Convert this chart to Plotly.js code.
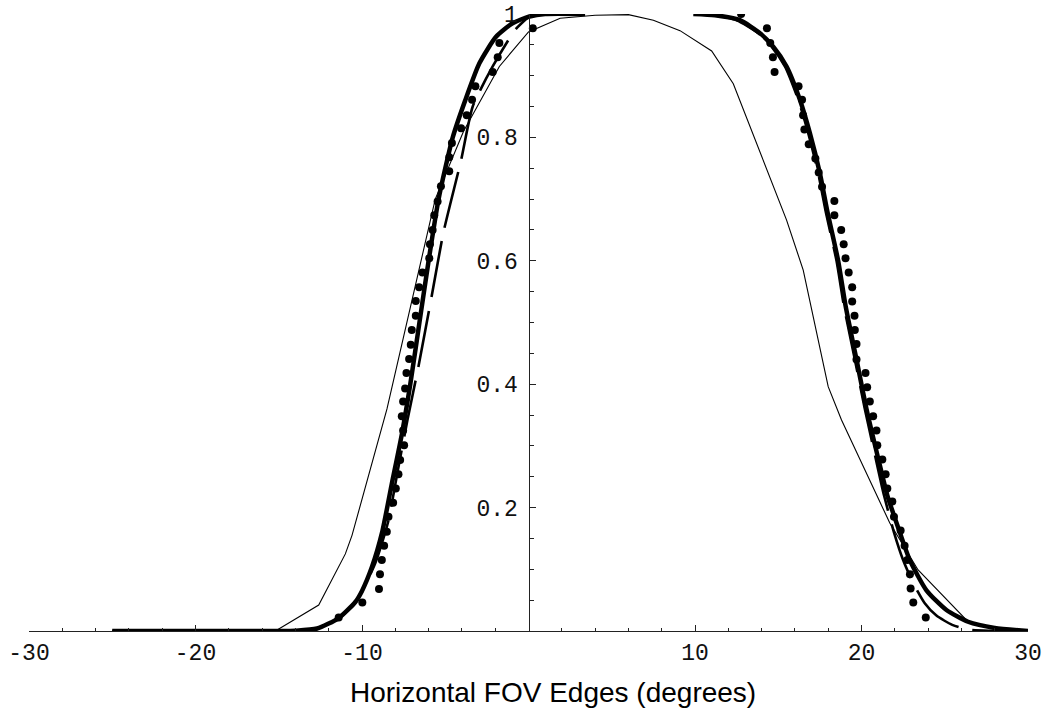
<!DOCTYPE html>
<html>
<head>
<meta charset="utf-8">
<script src="https://cdn.plot.ly/plotly-3.0.1.min.js"></script>
<style>html,body{margin:0;padding:0;background:#fff;}#chart{width:1048px;height:712px;}</style>
</head>
<body>
<div id="chart"></div>
<script>
// ---- data ----
var thinX = [-25, -15.2, -12.6, -11.0, -10.6, -8.5, -5.6, -3.9, -1.75, 0, 1.9, 4, 6, 7.5, 9.1, 11.0, 12.3, 15.5, 16.5, 18.0, 18.8, 21.7, 23.4, 26.4, 28, 30];
var thinY = [0, 0, 0.042, 0.125, 0.155, 0.36, 0.70, 0.81, 0.915, 0.971, 0.993, 0.998, 0.999, 0.99, 0.973, 0.94, 0.887, 0.666, 0.585, 0.396, 0.342, 0.175, 0.099, 0.015, 0.005, 0];

var thickX = [-25, -15, -14, -12.7, -11.4, -10.4, -10.0, -9.4, -8.8, -8.2, -7.6, -7.1, -6.55, -6.0, -5.4, -4.55, -3.8, -2.95, -1.95, -0.96, 0.06, 1.0, 3.4, null,
              9.9, 11.2, 12.7, 13.9, 14.7, 15.5, 16.3, 16.9, 17.5, 17.95, 18.6, 19.05, 19.7, 20.3, 21.0, 21.55, 22.3, 22.9, 23.9, 25.1, 26.4, 28, 30];
var thickY = [0, 0, 0.0005, 0.004, 0.021, 0.047, 0.065, 0.104, 0.159, 0.24, 0.32, 0.40, 0.50, 0.60, 0.70, 0.80, 0.86, 0.92, 0.963, 0.985, 0.996, 1.0, 1.0, null,
              1.0, 0.998, 0.99, 0.969, 0.947, 0.915, 0.861, 0.807, 0.742, 0.68, 0.6, 0.526, 0.44, 0.36, 0.28, 0.22, 0.16, 0.115, 0.066, 0.034, 0.015, 0.005, 0];

var dashLX = [-25, -14, -12.6, -11.3, -10.2, -9.2, -8.45, -7.85, -7.27, -6.6, -5.8, -5.1, -4.05, -3.35, -2.15, -0.78, 0.2];
var dashLY = [0, 0, 0.005, 0.022, 0.055, 0.11, 0.175, 0.26, 0.342, 0.43, 0.545, 0.647, 0.763, 0.85, 0.915, 0.975, 1.0];

var dashRX = [10.8, 12.5, 13.8, 14.6, 15.4, 16.2, 16.8, 17.4, 17.85, 18.5, 18.95, 19.6, 20.2, 20.85, 21.35, 21.95, 22.5, 23.1, 23.8, 24.5, 25.45, 26.5, 30];
var dashRY = [1.0, 0.99, 0.969, 0.947, 0.915, 0.861, 0.807, 0.742, 0.68, 0.6, 0.526, 0.44, 0.36, 0.28, 0.22, 0.16, 0.115, 0.078, 0.045, 0.025, 0.01, 0.002, 0];

var dotLX = [-11.4, -9.98, -8.98, -8.92, -8.81, -8.67, -8.51, -8.41, -8.13, -7.97, -7.81, -7.71, -7.47, -7.53, -7.61, -7.53, -7.41, -7.33, -7.17, -7.07, -7.01, -6.77, -6.77, -6.57, -6.37, -5.96, -5.92, -5.76, -5.66, -5.46, -5.26, -4.76, -4.76, -4.6, -4.05, -3.71, -3.39, -3.19, -2.15, -1.85, -1.75, 0.26];
var dotLY = [0.022, 0.046, 0.068, 0.092, 0.115, 0.138, 0.161, 0.185, 0.208, 0.231, 0.254, 0.277, 0.301, 0.325, 0.348, 0.372, 0.393, 0.418, 0.441, 0.464, 0.488, 0.511, 0.535, 0.557, 0.581, 0.604, 0.627, 0.650, 0.674, 0.696, 0.721, 0.745, 0.768, 0.791, 0.815, 0.836, 0.861, 0.883, 0.906, 0.930, 0.953, 0.977];

var dotRX = [12.77, 14.32, 14.52, 14.68, 14.78, 16.22, 16.43, 16.49, 16.57, 16.83, 17.23, 17.43, 17.63, 18.37, 18.37, 18.78, 18.93, 19.04, 19.23, 19.44, 19.44, 19.58, 19.6, 19.7, 19.7, 20.24, 20.34, 20.5, 20.7, 20.9, 20.95, 21.25, 21.45, 21.55, 21.85, 21.95, 22.35, 22.59, 22.75, 22.91, 22.95, 23.11, 23.86];
var dotRY = [1.0, 0.977, 0.953, 0.930, 0.906, 0.883, 0.861, 0.836, 0.813, 0.789, 0.766, 0.743, 0.720, 0.697, 0.674, 0.650, 0.627, 0.604, 0.581, 0.557, 0.534, 0.511, 0.488, 0.465, 0.440, 0.418, 0.395, 0.372, 0.348, 0.325, 0.301, 0.278, 0.254, 0.231, 0.210, 0.185, 0.163, 0.138, 0.115, 0.092, 0.069, 0.046, 0.022];

var xTickVals = [-30, -20, -10, 10, 20, 30];
var xTickText = ['-30', '-20', '-10', '10', '20', '30'];
var yTickVals = [0.2, 0.4, 0.6, 0.8, 1];
var yTickText = ['0.2', '0.4', '0.6', '0.8', '1'];
var xTitle = 'Horizontal FOV Edges (degrees)';

// minor tick positions
var xMinor = [];
for (var v = -28; v <= 28; v += 2) { if (v % 10 !== 0) xMinor.push(v); }
var yMinor = [];
for (var k = 1; k < 20; k++) { if (k % 4 !== 0) yMinor.push(+(k * 0.05).toFixed(2)); }

var ink = '#000';
var traces = [
  {x: thinX, y: thinY, mode: 'lines', line: {color: ink, width: 1.1}, hoverinfo: 'skip'},
  {x: dashLX, y: dashLY, mode: 'lines', line: {color: ink, width: 2.6, dash: '57px,14px', shape: 'spline', smoothing: 0.6}, hoverinfo: 'skip'},
  {x: dashRX, y: dashRY, mode: 'lines', line: {color: ink, width: 2.6, dash: '57px,14px', shape: 'spline', smoothing: 0.6}, hoverinfo: 'skip'},
  {x: thickX, y: thickY, mode: 'lines', connectgaps: false, line: {color: ink, width: 4.5, shape: 'spline', smoothing: 0.6}, hoverinfo: 'skip'},
  {x: dotLX.concat(dotRX), y: dotLY.concat(dotRY), mode: 'markers', marker: {color: ink, size: 8, symbol: 'circle'}, hoverinfo: 'skip'}
];

var tickFont = {family: 'Liberation Mono, Courier New, monospace', size: 23, color: '#111'};
var layout = {
  width: 1048, height: 712,
  margin: {l: 29, r: 20, t: 14, b: 81, pad: 0},
  paper_bgcolor: '#fff', plot_bgcolor: '#fff',
  showlegend: false,
  xaxis: {
    range: [-30, 30], showgrid: false, zeroline: false,
    showline: true, linecolor: '#222', linewidth: 1,
    ticks: 'inside', ticklen: 6, tickwidth: 1, tickcolor: '#222',
    tickmode: 'array', tickvals: xTickVals, ticktext: xTickText,
    tickfont: tickFont, ticklabelstandoff: 0,
    minor: {tickmode: 'array', tickvals: xMinor, ticks: 'inside', ticklen: 3.5, tickwidth: 1, tickcolor: '#222', showgrid: false}
  },
  yaxis: {
    range: [0, 1], anchor: 'free', position: 0.5, showgrid: false, zeroline: false,
    showline: true, linecolor: '#222', linewidth: 1,
    ticks: 'inside', ticklen: 6.5, tickwidth: 1, tickcolor: '#222',
    tickmode: 'array', tickvals: yTickVals, ticktext: yTickText,
    tickfont: tickFont, ticklabelstandoff: 6,
    minor: {tickmode: 'array', tickvals: yMinor, ticks: 'inside', ticklen: 4.5, tickwidth: 1, tickcolor: '#222', showgrid: false}
  },
  annotations: [{
    text: xTitle, xref: 'paper', yref: 'paper', x: 0.525, y: -0.0998,
    xanchor: 'center', yanchor: 'middle', showarrow: false,
    font: {family: 'Liberation Sans, Arial, Helvetica, sans-serif', size: 28, color: '#000'}
  }]
};

Plotly.newPlot('chart', traces, layout, {staticPlot: true, displayModeBar: false});
</script>
</body>
</html>
